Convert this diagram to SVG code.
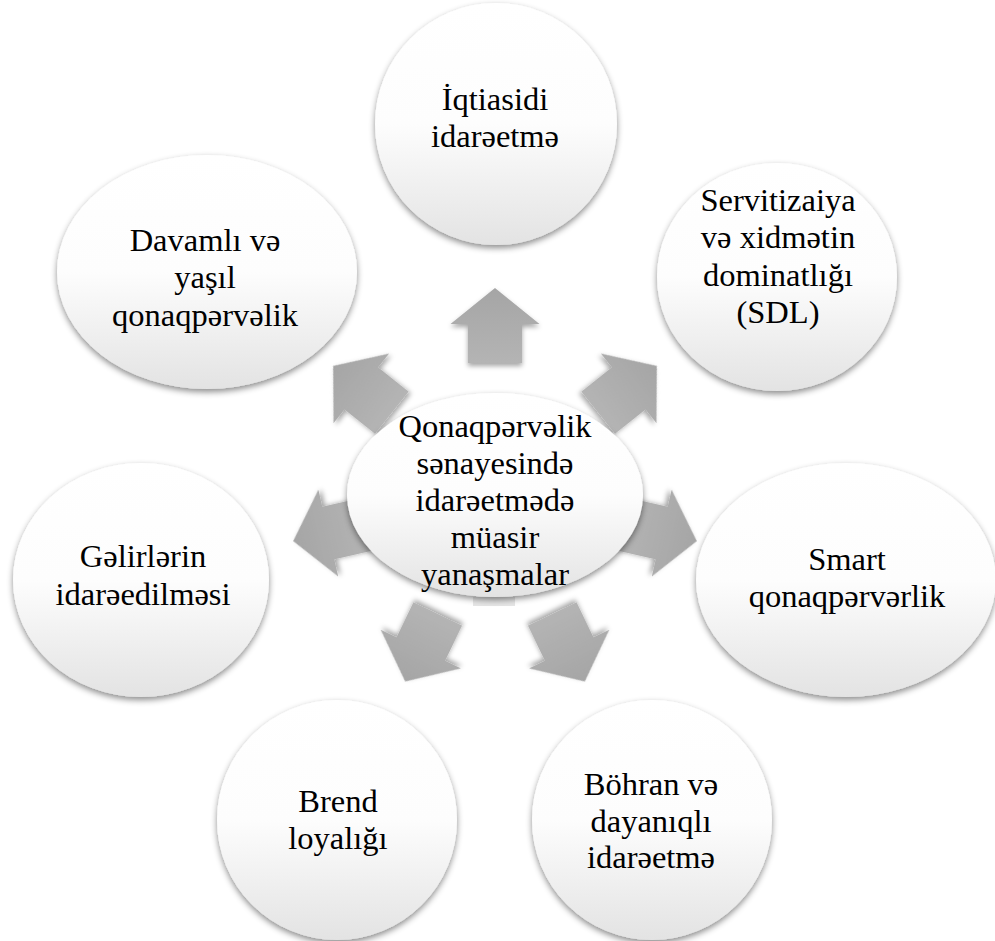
<svg xmlns="http://www.w3.org/2000/svg" width="995" height="941" viewBox="0 0 995 941">
<defs>
<style>
.node{fill:url(#ng);filter:url(#sh);}
.arr{fill:url(#ag);filter:url(#ash);}
.t{font-size:32.5px;fill:#000;text-anchor:middle;}
</style>
<linearGradient id="ng" x1="0" y1="0" x2="0" y2="1">
<stop offset="0" stop-color="#ffffff"/>
<stop offset="0.5" stop-color="#fdfdfd"/>
<stop offset="1" stop-color="#e3e3e3"/>
</linearGradient>
<linearGradient id="ag" x1="0" y1="0" x2="0" y2="1">
<stop offset="0" stop-color="#a5a5a5"/>
<stop offset="1" stop-color="#b4b4b4"/>
</linearGradient>
<filter id="sh" x="-15%" y="-15%" width="130%" height="135%">
<feDropShadow dx="0" dy="3" stdDeviation="3" flood-color="#000" flood-opacity="0.45"/>
</filter>
<filter id="ash" x="-20%" y="-20%" width="140%" height="140%">
<feDropShadow dx="0" dy="3" stdDeviation="2.5" flood-color="#000" flood-opacity="0.35"/>
</filter>
<path id="arrow" d="M495,288 L539.5,324 L522,324 L522,363 L468,363 L468,324 L450.5,324 Z"/>
</defs>
<rect width="995" height="941" fill="#ffffff"/>
<g id="connectors">
<use href="#arrow" class="arr" transform="rotate(0 495 495)"/>
<use href="#arrow" class="arr" transform="rotate(51.43 495 495)"/>
<use href="#arrow" class="arr" transform="rotate(102.86 495 495)"/>
<use href="#arrow" class="arr" transform="rotate(154.29 495 495)"/>
<use href="#arrow" class="arr" transform="rotate(205.71 495 495)"/>
<use href="#arrow" class="arr" transform="rotate(257.14 495 495)"/>
<use href="#arrow" class="arr" transform="rotate(308.57 495 495)"/>
</g>
<g font-family="Liberation Serif, Times New Roman, serif">
<g id="node-center">
<rect x="473" y="597" width="42" height="9" fill="#e6e6e6"/>
<ellipse class="node" cx="495" cy="495" rx="148" ry="102"/>
<text class="t"><tspan x="495" y="437">Qonaqpərvəlik</tspan><tspan x="495" y="474">sənayesində</tspan><tspan x="495" y="511">idarəetmədə</tspan><tspan x="495" y="548">müasir</tspan><tspan x="495" y="585">yanaşmalar</tspan></text>
</g>
<g id="node-iqtisadi">
<ellipse class="node" cx="496" cy="124" rx="121" ry="121"/>
<text class="t"><tspan x="495" y="110">İqtiasidi</tspan><tspan x="495" y="147">idarəetmə</tspan></text>
</g>
<g id="node-servitizaiya">
<ellipse class="node" cx="777" cy="277" rx="120" ry="114"/>
<text class="t"><tspan x="778" y="211">Servitizaiya</tspan><tspan x="778" y="248">və xidmətin</tspan><tspan x="778" y="286">dominatlığı</tspan><tspan x="778" y="323">(SDL)</tspan></text>
</g>
<g id="node-smart">
<ellipse class="node" cx="846" cy="580" rx="150" ry="117"/>
<text class="t"><tspan x="847" y="570">Smart</tspan><tspan x="847" y="607">qonaqpərvərlik</tspan></text>
</g>
<g id="node-bohran">
<ellipse class="node" cx="652" cy="820" rx="120" ry="120"/>
<text class="t"><tspan x="651" y="795">Böhran və</tspan><tspan x="651" y="832">dayanıqlı</tspan><tspan x="651" y="868">idarəetmə</tspan></text>
</g>
<g id="node-brend">
<ellipse class="node" cx="337" cy="820" rx="120" ry="120"/>
<text class="t"><tspan x="338" y="812">Brend</tspan><tspan x="338" y="849">loyalığı</tspan></text>
</g>
<g id="node-gelirler">
<ellipse class="node" cx="141" cy="580" rx="128" ry="117"/>
<text class="t"><tspan x="143" y="567">Gəlirlərin</tspan><tspan x="143" y="605">idarəedilməsi</tspan></text>
</g>
<g id="node-davamli">
<ellipse class="node" cx="207" cy="272" rx="150" ry="117"/>
<text class="t"><tspan x="205" y="251">Davamlı və</tspan><tspan x="205" y="288">yaşıl</tspan><tspan x="205" y="326">qonaqpərvəlik</tspan></text>
</g>
</g>
</svg>
